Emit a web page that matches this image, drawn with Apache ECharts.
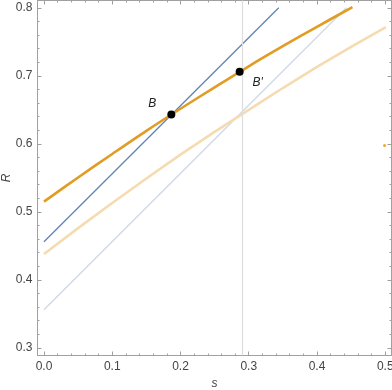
<!DOCTYPE html>
<html>
<head>
<meta charset="utf-8">
<script src="https://cdn.jsdelivr.net/npm/echarts@6/dist/echarts.min.js"></script>
<style>
html,body{margin:0;padding:0;background:#fff;}
#chart{width:392px;height:390px;}
</style>
</head>
<body>
<div id="chart"></div>
<script>
// Data
const xRange = [-0.0095, 0.5092];
const yRange = [0.2887, 0.8107];

const orangeS = [0, 0.05, 0.1, 0.15, 0.2, 0.25, 0.3, 0.35, 0.4, 0.452];
const orangeR = [0.515, 0.5505, 0.585, 0.619, 0.6515, 0.683, 0.714, 0.7435, 0.772, 0.801];

const lightOrangeS = [0, 0.05, 0.1, 0.15, 0.2, 0.25, 0.3, 0.35, 0.4, 0.45, 0.501];
const lightOrangeR = [0.438, 0.476, 0.513, 0.549, 0.584, 0.6175, 0.650, 0.682, 0.713, 0.7425, 0.7715];

const blueS = [0, 0.344];
const blueR = [0.456, 0.8];

const lightBlueS = [0, 0.443];
const lightBlueR = [0.356, 0.8];

const vLineS = 0.2867;

const pointNames = ['B', "B'"];
const pointS = [0.1866, 0.2867];
const pointR = [0.643, 0.706];

const strayS = [0.499];
const strayR = [0.5975];

const zip = (a, b) => a.map((v, i) => [v, b[i]]);

const chart = echarts.init(document.getElementById('chart'), null, {renderer: 'canvas'});

const fmt = v => {
  const r = Math.round(v * 10) / 10;
  return Math.abs(v - r) < 1e-6 ? r.toFixed(1) : '';
};

const frameAxis = {
  type: 'value',
  min: xRange[0], max: xRange[1],
  splitNumber: 5,
  axisLine: {show: true, onZero: false, lineStyle: {color: '#a0a0a0', width: 1}},
  axisTick: {show: true, inside: true, length: 4, lineStyle: {color: '#a0a0a0'}},
  minorTick: {show: true, splitNumber: 5, length: 2, lineStyle: {color: '#a0a0a0'}},
  splitLine: {show: false},
};

chart.setOption({
  animation: false,
  backgroundColor: '#fff',
  grid: {left: 37.5, right: 0.5, top: 0.5, bottom: 34.5, containLabel: false, outerBoundsMode: 'none'},
  xAxis: [
    Object.assign({}, frameAxis, {
      position: 'bottom',
      name: 's', nameLocation: 'middle', nameGap: 22, nameMoveOverlap: false,
      nameTextStyle: {fontFamily: 'Liberation Sans', fontStyle: 'italic', fontSize: 12, color: '#444'},
      axisLabel: {formatter: fmt, fontFamily: 'Liberation Sans', fontSize: 12, color: '#444', margin: 5, showMinLabel: false, showMaxLabel: false, hideOverlap: false}
    }),
    Object.assign({}, frameAxis, {position: 'top', axisLabel: {show: false}})
  ],
  yAxis: [
    Object.assign({}, frameAxis, {
      min: yRange[0], max: yRange[1],
      position: 'left',
      name: 'R', nameLocation: 'middle', nameGap: 25, nameRotate: 90, nameMoveOverlap: false,
      nameTextStyle: {fontFamily: 'Liberation Sans', fontStyle: 'italic', fontSize: 12, color: '#444'},
      axisLabel: {formatter: fmt, fontFamily: 'Liberation Sans', fontSize: 12, color: '#444', margin: 5, showMinLabel: false, showMaxLabel: false, hideOverlap: false}
    }),
    Object.assign({}, frameAxis, {min: yRange[0], max: yRange[1], position: 'right', axisLabel: {show: false}})
  ],
  series: [
    {
      type: 'line', data: zip(lightBlueS, lightBlueR), showSymbol: false, silent: true,
      lineStyle: {color: '#cad8ea', width: 1.2},
      markLine: {
        silent: true, symbol: 'none', label: {show: false},
        lineStyle: {color: '#dedede', width: 1.2, type: 'solid'},
        data: [{xAxis: vLineS}]
      }
    },
    {
      type: 'line', data: zip(lightOrangeS, lightOrangeR), showSymbol: false, silent: true,
      lineStyle: {color: '#f5dcb0', width: 2.6}
    },
    {
      type: 'line', data: zip(blueS, blueR), showSymbol: false, silent: true,
      lineStyle: {color: '#6283b7', width: 1.3}
    },
    {
      type: 'line', data: zip(orangeS, orangeR), showSymbol: false, silent: true, smooth: 0.3,
      lineStyle: {color: '#e19c24', width: 2.6}
    },
    {
      type: 'scatter', data: zip(strayS, strayR), symbolSize: 3, silent: true,
      itemStyle: {color: '#f0a830', opacity: 1, borderWidth: 0}
    },
    {
      type: 'scatter', silent: true, symbolSize: 8, z: 10,
      itemStyle: {color: '#000000', opacity: 1, borderWidth: 0, borderColor: '#000000'},
      data: pointNames.map((n, i) => ({
        value: [pointS[i], pointR[i]],
        itemStyle: {color: '#000000', opacity: 1},
        label: {
          show: true, formatter: n, position: 'inside',
          offset: i === 0 ? [-19, -11] : [18, 11],
          fontFamily: 'Liberation Sans', fontStyle: 'italic', fontSize: 12, color: '#222'
        }
      }))
    }
  ]
});
</script>
</body>
</html>
